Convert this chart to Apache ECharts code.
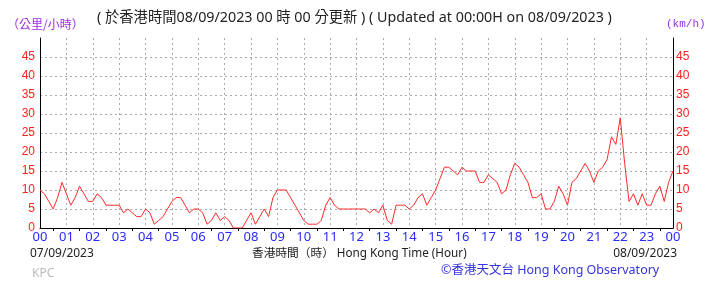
<!DOCTYPE html>
<html><head><meta charset="utf-8">
<script src="https://cdn.jsdelivr.net/npm/echarts@6/dist/echarts.min.js"></script>
<style>html,body{margin:0;padding:0;background:#fff}#c{width:718px;height:284px}</style>
</head><body><div id="c"></div>
<script>
// 10-minute mean wind speed (km/h), 00:00 07/09/2023 to 00:00 08/09/2023
const hourLabels = ['00','01','02','03','04','05','06','07','08','09','10','11','12','13','14','15','16','17','18','19','20','21','22','23','00'];
const yTicks = [0,5,10,15,20,25,30,35,40,45];
const speedH00_05 = [10,9,7,5,8,12, 9,6,8,11,9,7, 7,9,8,6,6,6, 6,4,5,4,3,3, 5,4,1,2,3,5, 7,8,8,6,4,5];
const speedH06_11 = [5,4,1,2,4,2, 3,2,0,0,0,2, 4,1,3,5,3,8, 10,10,10,8,6,4, 2,1,1,1,2,6, 8,6,5,5,5,5];
const speedH12_17 = [5,5,5,4,5,4, 6,2,1,6,6,6, 5,6,8,9,6,8, 10,13,16,16,15,14, 16,15,15,15,12,12, 14,13,12,9,10,14];
const speedH18_24 = [17,16,14,12,8,8, 9,5,5,7,11,9, 6,12,13,15,17,15, 12,15,16,18,24,22, 29,17,7,9,6,9, 6,6,9,11,7,12, 15];
const speeds = [].concat(speedH00_05, speedH06_11, speedH12_17, speedH18_24);
const stepsPerHour = 6;

const chart = echarts.init(document.getElementById('c'), null, {renderer:'canvas'});
const seriesData = speeds.map((v,i)=>[i/stepsPerHour, v]);
const yAxisCommon = {
  type:'value', min:0, max:50, interval:5,
  axisLine:{show:true, lineStyle:{color:'#000', width:1}},
  axisTick:{show:false},
  splitLine:{show:true, showMaxLine:false, showMinLine:false, lineStyle:{color:'#aaa', type:[2,3], width:1}},
  axisLabel:{color:'#ff2020', fontSize:12, fontFamily:'Liberation Sans',
    formatter:v=> yTicks.includes(v) ? String(v) : ''}
};
chart.setOption({
  animation:false,
  grid:{left:40, right:45, top:38, bottom:56, containLabel:false},
  xAxis:{type:'value', min:0, max:24, interval:1,
    axisLine:{show:true, onZero:false, lineStyle:{color:'#000', width:1}},
    axisTick:{show:false},
    minorTick:{show:true, splitNumber:2, length:3, lineStyle:{color:'#000'}},
    splitLine:{show:true, showMinLine:false, showMaxLine:false, lineStyle:{color:'#aaa', type:[2,3], width:1}},
    axisLabel:{color:'#2a2aff', fontSize:13, fontFamily:'Noto Sans', margin:3,
      formatter:v=>hourLabels[Math.round(v)]}
  },
  yAxis:[Object.assign({position:'left'}, yAxisCommon, {axisLabel:Object.assign({}, yAxisCommon.axisLabel, {margin:5})}),
         Object.assign({position:'right'}, yAxisCommon, {splitLine:{show:false}, axisLabel:Object.assign({}, yAxisCommon.axisLabel, {margin:3})})],
  series:[{type:'line', data:seriesData, showSymbol:false, lineStyle:{color:'#ff2a2a', width:1}, yAxisIndex:0}],
  graphic:[
    {type:'text', left:7, top:18, style:{text:'（公里/小時）', fill:'#9a2ee0', font:'12px "Noto Sans CJK TC"'}},
    {type:'text', left:97, top:11, style:{text:'( 於香港時間08/09/2023 00 時 00 分更新 ) ( Updated at 00:00H on 08/09/2023 )', fill:'#222', font:'14.3px "Noto Sans", "Noto Sans CJK TC"'}},
    {type:'text', left:666, top:19, style:{text:'(km/h)', fill:'#9a2ee0', font:'11px "Liberation Mono"'}},
    {type:'text', left:30, top:248, style:{text:'07/09/2023', fill:'#222', font:'12px "Noto Sans"'}},
    {type:'text', left:252, top:248, style:{text:'香港時間（時） Hong Kong Time (Hour)', fill:'#222', font:'11.7px "Noto Sans", "Noto Sans CJK TC"'}},
    {type:'text', right:41, top:248, style:{text:'08/09/2023', fill:'#222', font:'12px "Noto Sans"'}},
    {type:'text', left:32, top:268, style:{text:'KPC', fill:'#bbb', font:'12px "Noto Sans"'}},
    {type:'text', left:441, top:264, style:{text:'©香港天文台 Hong Kong Observatory', fill:'#3535dd', font:'12.5px "Noto Sans", "Noto Sans CJK TC"'}}
  ]
});
</script></body></html>
